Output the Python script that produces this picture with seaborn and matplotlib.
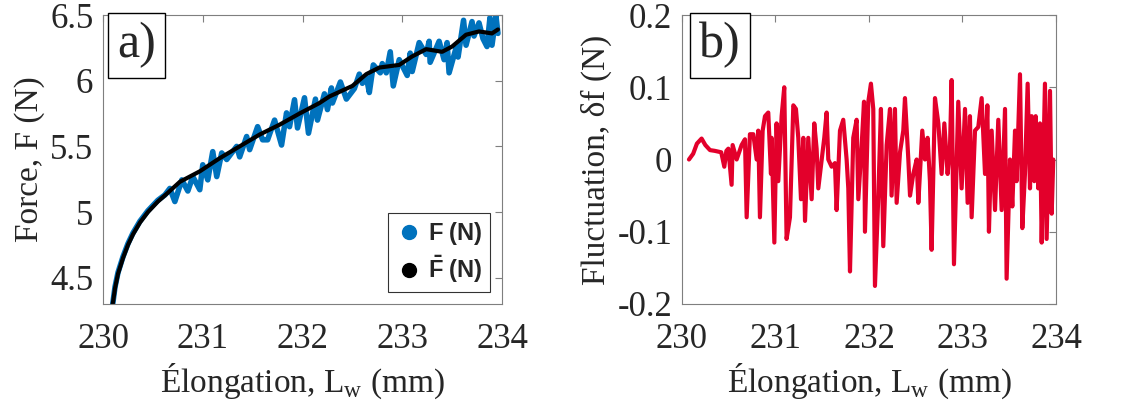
import matplotlib
matplotlib.use("Agg")
import matplotlib.pyplot as plt
from matplotlib.lines import Line2D
import seaborn as sns

# panel a: mean force (black)
fbar_x = [230.097, 230.12, 230.15, 230.20, 230.25, 230.30, 230.37, 230.45, 230.55, 230.64,
          230.77, 230.97, 231.17, 231.37,
          231.57, 231.77, 231.97, 232.17, 232.27, 232.50, 232.64, 232.77, 232.97, 233.10,
          233.24, 233.40, 233.50, 233.64, 233.77, 233.90, 233.96]
fbar_y = [4.30, 4.42, 4.53, 4.65, 4.75, 4.83, 4.92, 5.00, 5.08, 5.14,
          5.23, 5.31, 5.41, 5.50,
          5.59, 5.665, 5.75, 5.83, 5.88, 5.96, 6.05, 6.10, 6.12, 6.185,
          6.24, 6.22, 6.26, 6.35, 6.375, 6.36, 6.39]

# panel a: raw force (blue)
f_x = [230.097, 230.12, 230.15, 230.20, 230.25, 230.30, 230.37, 230.45, 230.55, 230.62,
       230.67, 230.72, 230.79, 230.85,
       230.90, 230.97, 231.00, 231.05, 231.10, 231.14, 231.19, 231.24, 231.34, 231.37,
       231.44, 231.47, 231.55, 231.60, 231.65, 231.72, 231.79, 231.84, 231.87, 231.92,
       231.95, 232.02, 232.06, 232.13, 232.15, 232.22, 232.25, 232.29, 232.30, 232.38,
       232.44, 232.52, 232.57, 232.60, 232.64, 232.67, 232.71, 232.78, 232.80, 232.84,
       232.88, 232.91, 232.97, 233.05, 233.08, 233.10, 233.17, 233.24, 233.27, 233.28,
       233.37, 233.42, 233.45, 233.47, 233.54, 233.56, 233.615, 233.64, 233.70, 233.72,
       233.77, 233.81, 233.85, 233.88, 233.90, 233.94, 233.96]
f_y = [4.30, 4.43, 4.54, 4.66, 4.76, 4.84, 4.93, 5.01, 5.09, 5.13,
       5.18, 5.08, 5.245, 5.16,
       5.27, 5.17, 5.36, 5.245, 5.46, 5.27, 5.45, 5.40, 5.50, 5.42,
       5.575, 5.475, 5.65, 5.55, 5.55, 5.70, 5.51, 5.755, 5.65, 5.855,
       5.64, 5.87, 5.60, 5.86, 5.70, 5.90, 5.78, 5.945, 5.83, 5.99,
       5.86, 5.94, 6.05, 5.98, 6.03, 5.91, 6.12, 6.06, 6.13, 6.06,
       6.22, 5.96, 6.16, 6.04, 6.21, 6.07, 6.29, 6.20, 6.30, 6.14,
       6.30, 6.16, 6.29, 6.06, 6.25, 6.18, 6.46, 6.27, 6.45, 6.34,
       6.44, 6.32, 6.26, 6.48, 6.27, 6.49, 6.36]

# panel b: fluctuation
df_x = [230.075, 230.12, 230.16, 230.21, 230.25, 230.30, 230.35, 230.42, 230.453, 230.475,
        230.496, 230.531, 230.542, 230.585, 230.638, 230.674, 230.692, 230.727, 230.763, 230.799,
        230.816, 230.834, 230.863, 230.888, 230.923, 230.952, 230.959, 230.988, 231.012, 231.030,
        231.066, 231.094, 231.119, 231.155, 231.191, 231.219, 231.244, 231.273, 231.298, 231.316,
        231.351, 231.387, 231.415, 231.440, 231.458, 231.494, 231.522, 231.547, 231.565, 231.601,
        231.636, 231.654, 231.690, 231.725, 231.761, 231.779, 231.797, 231.832, 231.868, 231.886,
        231.922, 231.947, 231.957, 231.993, 232.021, 232.046, 232.064, 232.100, 232.128, 232.153,
        232.189, 232.225, 232.242, 232.278, 232.296, 232.332, 232.367, 232.385, 232.421, 232.439,
        232.474, 232.510, 232.528, 232.570, 232.599, 232.627, 232.652, 232.670, 232.706, 232.742,
        232.777, 232.806, 232.841, 232.866, 232.884, 232.909, 232.938, 232.955, 232.991, 233.027,
        233.055, 233.080, 233.098, 233.134, 233.169, 233.205, 233.241, 233.266, 233.283, 233.312,
        233.348, 233.383, 233.419, 233.455, 233.472, 233.508, 233.533, 233.562, 233.579, 233.615,
        233.640, 233.668, 233.697, 233.722, 233.740, 233.768, 233.783, 233.811, 233.829, 233.847,
        233.882, 233.900, 233.936, 233.954, 233.971]
df_y = [0.0, 0.008, 0.022, 0.029, 0.02, 0.013, 0.012, 0.01, -0.01, 0.012,
        0.015, -0.035, 0.02, 0.0, 0.02, 0.028, -0.08, 0.035, 0.035, 0.0,
        0.04, -0.08, 0.04, 0.06, 0.065, -0.02, 0.03, -0.115, 0.05, -0.03,
        0.06, 0.10, -0.11, -0.08, 0.075, 0.07, 0.03, -0.055, 0.03, -0.085,
        0.03, -0.055, 0.05, 0.015, -0.04, 0.0, 0.03, 0.065, 0.0, -0.01,
        -0.005, -0.07, 0.04, 0.055, 0.0, -0.04, -0.155, 0.03, 0.055, -0.055,
        0.02, 0.08, -0.10, 0.08, 0.105, 0.07, -0.175, -0.05, 0.07, -0.12,
        0.02, 0.07, -0.05, 0.07, -0.06, 0.01, 0.04, 0.085, 0.0, -0.05,
        -0.02, 0.0, -0.06, 0.04, 0.0, 0.03, -0.03, -0.125, 0.085, 0.05,
        -0.02, 0.05, -0.02, 0.015, 0.11, -0.145, 0.0, 0.08, -0.04, 0.07,
        -0.06, 0.06, -0.08, 0.04, 0.045, 0.085, -0.02, 0.075, -0.10, 0.04,
        -0.07, 0.055, -0.07, 0.07, -0.165, 0.0, -0.065, 0.04, -0.03, 0.118,
        -0.095, -0.02, 0.105, -0.04, 0.06, -0.03, 0.06, -0.04, 0.05, -0.115,
        0.105, -0.11, 0.095, -0.075, 0.0]

x_ticks = [230, 231, 232, 233, 234]

sns.set_style("white")
plt.rcParams['font.family'] = ['Liberation Serif', 'DejaVu Serif']
plt.rcParams['mathtext.fontset'] = 'custom'
plt.rcParams['mathtext.rm'] = 'Liberation Serif'
plt.rcParams['mathtext.bf'] = 'Liberation Sans:bold'

blue = '#0072BD'
red = '#E3002B'
grey = '#7f7f7f'

fig = plt.figure(figsize=(11.3, 4.07), dpi=100)
ax1 = fig.add_axes([0.0912, 0.2531, 0.353, 0.710])
ax2 = fig.add_axes([0.6035, 0.2531, 0.331, 0.710])

sns.lineplot(x=f_x, y=f_y, ax=ax1, color=blue, lw=4, sort=False, estimator=None)
sns.lineplot(x=fbar_x, y=fbar_y, ax=ax1, color='black', lw=3, sort=False, estimator=None)
sns.lineplot(x=df_x, y=df_y, ax=ax2, color=red, lw=3, sort=False, estimator=None)

ax1.set_xlim(230, 234)
ax1.set_ylim(4.3, 6.5)
ax1.set_yticks([4.5, 5, 5.5, 6, 6.5])
ax1.set_yticklabels(['4.5', '5', '5.5', '6', '6.5'])
ax2.set_xlim(230, 234)
ax2.set_ylim(-0.2, 0.2)
ax2.set_yticks([-0.2, -0.1, 0, 0.1, 0.2])
ax2.set_yticklabels(['-0.2', '-0.1', '0', '0.1', '0.2'])

for ax in (ax1, ax2):
    ax.set_xticks(x_ticks)
    ax.set_xticklabels([str(t) for t in x_ticks])
    ax.tick_params(direction='in', length=5, width=0.8, color=grey, labelsize=25,
                   top=True, right=True, pad=7)
    ax.tick_params(axis='x', pad=14)
    for s in ax.spines.values():
        s.set_color(grey)
        s.set_linewidth(0.8)
    ax.set_xlabel(r'Élongation, L$_\mathregular{w}$ (mm)', fontsize=24, labelpad=4)

ax1.set_ylabel('Force, F (N)', fontsize=24, labelpad=4)
ax2.set_ylabel('Fluctuation, δf (N)', fontsize=24, labelpad=4)

box = dict(boxstyle='square,pad=0.18', fc='white', ec='black', lw=1)
ax1.text(0.035, 0.895, 'a)', transform=ax1.transAxes, fontsize=36, va='center', ha='left', bbox=box)
ax2.text(0.045, 0.895, 'b)', transform=ax2.transAxes, fontsize=36, va='center', ha='left', bbox=box)

handles = [Line2D([], [], ls='none', marker='o', ms=10, color=blue),
           Line2D([], [], ls='none', marker='o', ms=10, color='black')]
leg = ax1.legend(handles, [r'$\mathbf{F}$ (N)', r'$\mathbf{\bar{F}}$ (N)'], loc='lower right',
                 prop={'family': 'Liberation Sans', 'weight': 'bold', 'size': 17},
                 frameon=True, fancybox=False, edgecolor='black', handletextpad=0.2,
                 handlelength=1.2, borderpad=0.3, labelspacing=0.3, borderaxespad=0.5)
leg.get_frame().set_linewidth(0.8)

fig.savefig('out.png', dpi=100)
